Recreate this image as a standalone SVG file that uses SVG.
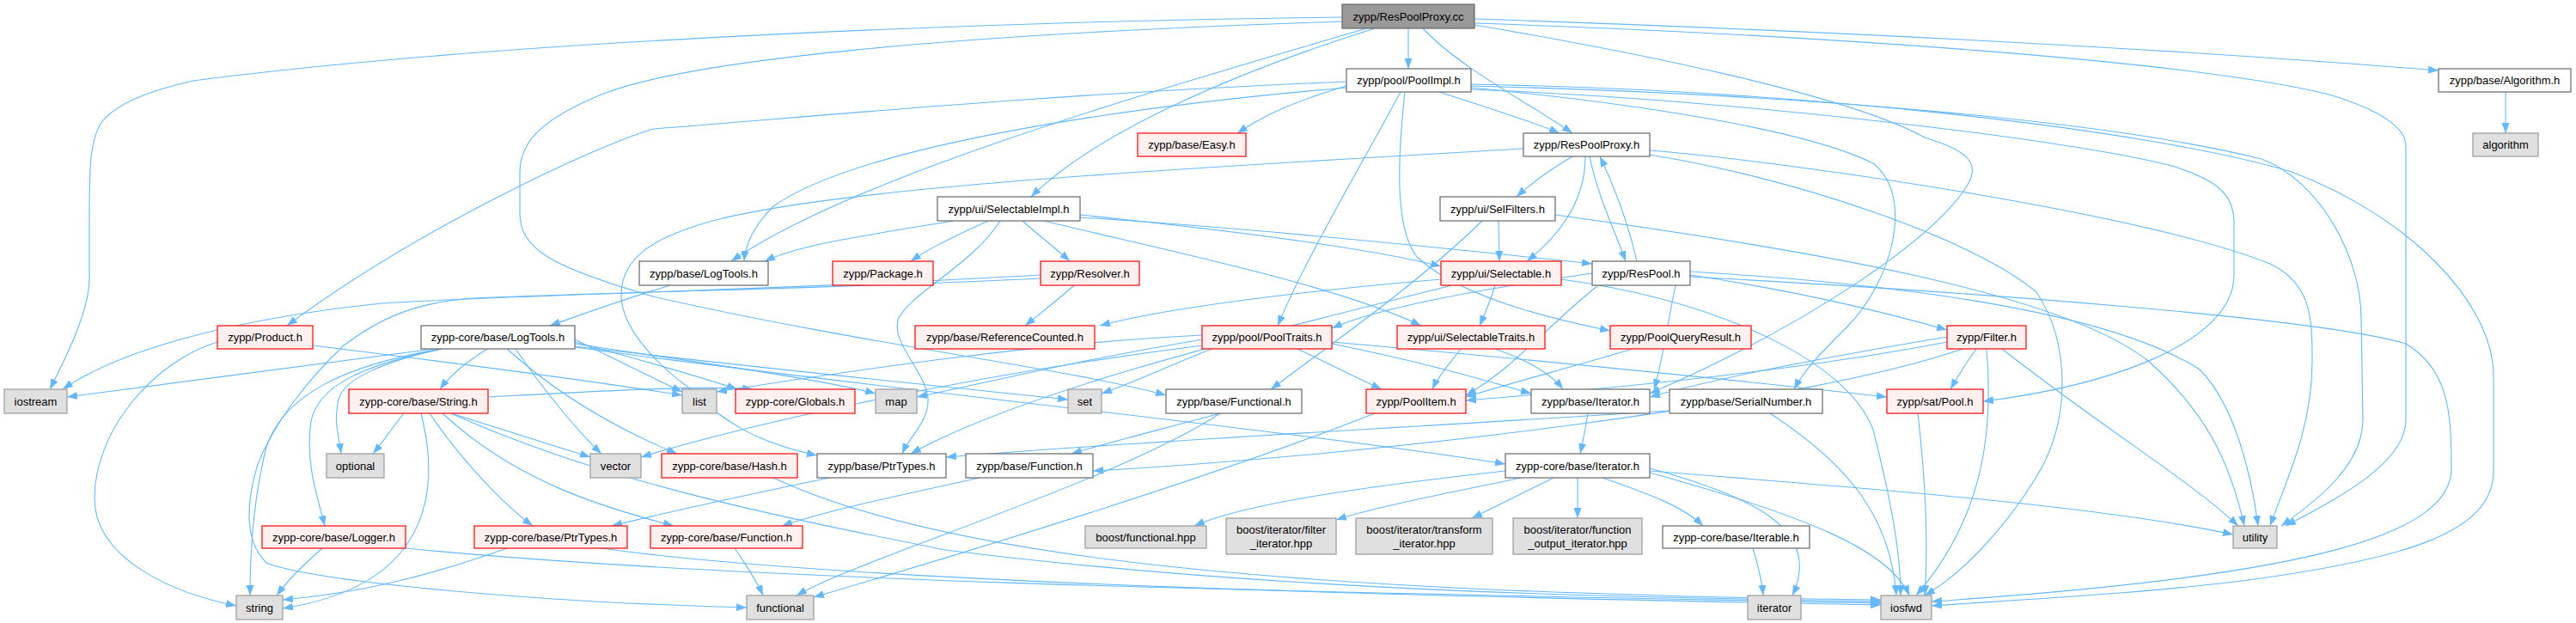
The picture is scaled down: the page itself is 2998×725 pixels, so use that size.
<svg xmlns="http://www.w3.org/2000/svg" width="2998" height="725" viewBox="0 0 2998 725">
<style>
.e{fill:none;stroke:#63B8FF;stroke-width:1.1;marker-end:url(#ah)}
.nd rect{fill:#FFFFFF;stroke:#666666;stroke-width:1.2}
.rd rect{fill:#FFF0F0;stroke:#FF0000;stroke-width:1.2}
.gy rect{fill:#E0E0E0;stroke:#999999;stroke-width:1.2}
.rt rect{fill:#999999;stroke:#666666;stroke-width:1.2}
text{font-family:"Liberation Sans",Arial,sans-serif;font-size:13px;text-anchor:middle;fill:#000}
</style>
<defs>
<marker id="ah" markerUnits="userSpaceOnUse" markerWidth="13" markerHeight="10" refX="12" refY="4.5" orient="auto">
<path d="M0,0 L12,4.5 L0,9 z" fill="#63B8FF"/>
</marker>
</defs>
<rect width="2998" height="725" fill="#FFFFFF"/>
<g id="edges">
<path class="e" d="M1562,20 C1200,24 600,45 225,94 C175,105 137,120 120,140 C104,160 104,200 104,250 L104,323 C104,360 80,410 58,453"/>
<path class="e" d="M1590,33 C1400,90 1000,200 851,304"/>
<path class="e" d="M1600,33 C1450,80 1280,150 1200,229"/>
<path class="e" d="M1639,33 L1639,80"/>
<path class="e" d="M1656,33 C1700,80 1780,120 1830,155"/>
<path class="e" d="M1716,22 C2100,35 2500,55 2838,82"/>
<path class="e" d="M1716,27 C2100,40 2550,70 2711,110 C2760,125 2800,145 2800,170 L2800,488 C2800,540 2720,580 2660,612"/>
<path class="e" d="M1716,29 C1900,60 2150,110 2240,160 C2290,175 2305,190 2290,215 C2250,280 2100,380 1920,458"/>
<path class="e" d="M1562,25 C1100,40 800,70 700,110 C640,135 605,160 605,200 L605,247 C605,290 640,310 760,345 C1000,400 1250,430 1357,460"/>
<path class="e" d="M1567,100 C1500,120 1470,135 1440,155"/>
<path class="e" d="M1567,102 C1300,125 1000,170 900,240 C880,260 868,280 866,304"/>
<path class="e" d="M1675,107 C1730,125 1780,140 1815,155"/>
<path class="e" d="M1567,95 C1200,110 900,140 760,150 C688,172 485,267 334,379"/>
<path class="e" d="M1630,107 C1580,200 1520,300 1487,379"/>
<path class="e" d="M1635,107 C1625,200 1625,270 1650,300 C1700,345 1800,370 1874,385"/>
<path class="e" d="M1712,102 C1900,120 2100,150 2180,190 C2230,230 2200,330 2150,380 C2120,410 2100,430 2088,453"/>
<path class="e" d="M1712,104 C2000,115 2400,160 2528,193 C2580,210 2600,225 2600,260 L2600,320 C2600,400 2450,450 2308,467"/>
<path class="e" d="M1712,100 C2100,110 2450,140 2632,185 C2700,210 2748,300 2748,370 L2750,488 C2750,540 2700,580 2655,612"/>
<path class="e" d="M1712,98 C2100,105 2500,150 2667,200 C2800,250 2902,350 2902,438 L2902,548 C2902,620 2800,650 2617,675 C2500,690 2350,698 2248,705"/>
<path class="e" d="M1830,182 C1800,200 1780,215 1765,229"/>
<path class="e" d="M1845,182 C1845,230 1820,270 1777,304"/>
<path class="e" d="M1850,182 C1860,230 1880,270 1892,304"/>
<path class="e" d="M1773,173 C1400,195 1000,215 837,255 C760,275 723,300 723,343 C723,380 760,420 800,450 C840,490 880,515 951,530"/>
<path class="e" d="M1920,175 C2100,190 2500,250 2642,307 C2690,330 2691,370 2691,420 C2691,500 2660,560 2642,612"/>
<path class="e" d="M1920,180 C2100,210 2300,280 2370,340 C2410,400 2410,490 2370,555 C2330,620 2280,670 2240,693"/>
<path class="e" d="M1110,257 C1000,275 930,285 890,304"/>
<path class="e" d="M1150,257 C1100,280 1080,290 1060,304"/>
<path class="e" d="M1190,257 C1210,275 1230,290 1245,304"/>
<path class="e" d="M1257,250 C1450,270 1600,290 1677,310"/>
<path class="e" d="M1257,253 C1450,265 1650,285 1853,307"/>
<path class="e" d="M1215,257 C1350,290 1550,330 1654,379"/>
<path class="e" d="M1211,320 C900,338 550,345 444,353 C300,368 150,400 73,453"/>
<path class="e" d="M1164,257 C1130,310 1060,340 1045,372 C1038,400 1075,430 1080,462 C1082,490 1060,505 1050,528"/>
<path class="e" d="M1744,257 L1745,304"/>
<path class="e" d="M1725,257 C1650,330 1550,400 1479,453"/>
<path class="e" d="M1810,250 C2100,290 2400,340 2500,420 C2580,490 2600,560 2612,612"/>
<path class="e" d="M780,332 C720,350 680,365 640,379"/>
<path class="e" d="M1250,332 C1230,350 1210,365 1193,379"/>
<path class="e" d="M1211,324 C1000,335 700,340 551,347 C480,352 440,372 400,402 C360,440 320,490 300,540 C285,590 285,630 310,655 C360,675 600,700 869,707"/>
<path class="e" d="M1677,325 C1500,340 1350,360 1280,379"/>
<path class="e" d="M1740,332 C1735,350 1728,365 1722,379"/>
<path class="e" d="M1690,332 C1500,380 1200,450 1060,528"/>
<path class="e" d="M1817,325 C2000,350 2150,420 2180,500 C2200,580 2212,640 2212,693"/>
<path class="e" d="M1905,304 C1895,260 1880,220 1862,182"/>
<path class="e" d="M1853,318 C1700,340 1600,360 1550,382"/>
<path class="e" d="M1967,320 C2100,340 2200,365 2266,384"/>
<path class="e" d="M1860,332 C1800,380 1760,430 1706,460"/>
<path class="e" d="M1950,332 C1940,380 1935,420 1925,453"/>
<path class="e" d="M1967,316 C2200,330 2450,360 2560,430 C2600,470 2620,550 2628,612"/>
<path class="e" d="M1967,322 C2300,340 2700,370 2800,400 C2850,430 2853,480 2853,545 C2853,620 2700,670 2248,700"/>
<path class="e" d="M253,398 C180,420 110,500 110,580 C110,650 200,690 275,705"/>
<path class="e" d="M364,402 C550,425 700,445 794,460"/>
<path class="e" d="M505,406 C400,420 250,440 78,462"/>
<path class="e" d="M567,406 C545,420 525,435 512,453"/>
<path class="e" d="M514,406 C450,420 400,440 394,465 C388,490 394,505 397,528"/>
<path class="e" d="M514,406 C420,425 370,450 362,490 C355,540 370,580 378,612"/>
<path class="e" d="M514,406 C400,425 330,460 310,520 C295,580 291,640 291,693"/>
<path class="e" d="M600,406 C630,450 670,500 700,528"/>
<path class="e" d="M669,395 C720,420 760,440 794,456"/>
<path class="e" d="M669,398 C750,420 820,440 858,453"/>
<path class="e" d="M669,400 C800,420 950,440 1019,458"/>
<path class="e" d="M669,403 C900,430 1100,450 1243,465"/>
<path class="e" d="M590,406 C650,460 720,500 788,528"/>
<path class="e" d="M669,404 C1000,450 1500,500 1752,540"/>
<path class="e" d="M1399,390 C1200,400 1000,430 834,456"/>
<path class="e" d="M1399,395 C1250,420 1150,445 1067,462"/>
<path class="e" d="M1410,406 C1350,430 1320,445 1282,458"/>
<path class="e" d="M1510,406 C1550,425 1580,440 1608,453"/>
<path class="e" d="M1550,400 C1650,420 1720,440 1782,458"/>
<path class="e" d="M1550,398 C1800,420 2000,440 2196,462"/>
<path class="e" d="M1399,402 C1100,440 850,500 746,532"/>
<path class="e" d="M1700,406 C1690,420 1675,435 1667,453"/>
<path class="e" d="M1740,406 C1780,420 1805,435 1819,453"/>
<path class="e" d="M1900,406 C1820,430 1760,445 1706,462"/>
<path class="e" d="M2266,392 C2100,420 2000,440 1920,462"/>
<path class="e" d="M2300,406 C2290,420 2280,435 2270,453"/>
<path class="e" d="M2330,406 C2450,500 2550,560 2605,612"/>
<path class="e" d="M2312,406 C2320,500 2310,600 2230,693"/>
<path class="e" d="M2266,398 C2100,430 1900,450 1706,466"/>
<path class="e" d="M2284,406 C2100,470 1600,530 1272,548"/>
<path class="e" d="M470,481 C455,500 445,515 434,528"/>
<path class="e" d="M525,481 C600,505 650,520 687,532"/>
<path class="e" d="M490,481 C510,560 510,680 329,708"/>
<path class="e" d="M500,481 C540,540 590,590 620,612"/>
<path class="e" d="M515,481 C600,560 700,590 784,612"/>
<path class="e" d="M568,462 C700,455 820,448 876,453"/>
<path class="e" d="M525,481 C700,560 900,600 1100,640 C1500,690 1900,695 2189,700"/>
<path class="e" d="M1420,481 C1350,500 1290,515 1247,528"/>
<path class="e" d="M1420,481 C1300,560 1000,650 927,693"/>
<path class="e" d="M1600,481 C1400,560 1100,650 947,695"/>
<path class="e" d="M1848,481 C1845,500 1842,515 1839,528"/>
<path class="e" d="M2060,481 C2150,540 2200,600 2207,693"/>
<path class="e" d="M1943,478 C1600,500 1300,515 1101,532"/>
<path class="e" d="M2232,481 C2240,550 2245,620 2240,693"/>
<path class="e" d="M900,556 C1100,650 1500,690 2189,698"/>
<path class="e" d="M965,556 C850,580 780,595 712,612"/>
<path class="e" d="M1140,556 C1030,580 960,595 910,612"/>
<path class="e" d="M1752,548 C1600,565 1450,585 1390,612"/>
<path class="e" d="M1770,556 C1680,575 1600,590 1555,605"/>
<path class="e" d="M1808,556 C1770,575 1740,590 1713,603"/>
<path class="e" d="M1836,556 L1836,603"/>
<path class="e" d="M1865,556 C1920,575 1960,590 1982,612"/>
<path class="e" d="M1920,545 C2050,580 2120,620 2086,693"/>
<path class="e" d="M1920,548 C2200,570 2450,590 2599,622"/>
<path class="e" d="M1920,550 C2100,600 2200,640 2222,693"/>
<path class="e" d="M375,638 C350,660 335,675 322,693"/>
<path class="e" d="M472,638 C900,680 1600,690 2189,702"/>
<path class="e" d="M590,638 C500,670 420,690 329,698"/>
<path class="e" d="M700,638 C1000,680 1700,695 2189,704"/>
<path class="e" d="M855,638 C870,660 880,675 888,693"/>
<path class="e" d="M2040,638 C2045,655 2050,670 2052,693"/>
<path class="e" d="M2916,107 L2916,155"/>
</g>
<g id="n0" class="rt"><rect x="1562" y="5" width="154" height="28"/><text x="1639" y="23.5">zypp/ResPoolProxy.cc</text></g>
<g id="n1" class="nd"><rect x="1567" y="80" width="145" height="27"/><text x="1639.5" y="98">zypp/pool/PoolImpl.h</text></g>
<g id="n2" class="nd"><rect x="2838" y="80" width="154" height="27"/><text x="2915" y="98">zypp/base/Algorithm.h</text></g>
<g id="n3" class="rd"><rect x="1324" y="155" width="126" height="27"/><text x="1387" y="173">zypp/base/Easy.h</text></g>
<g id="n4" class="nd"><rect x="1773" y="155" width="147" height="27"/><text x="1846.5" y="173">zypp/ResPoolProxy.h</text></g>
<g id="n5" class="gy"><rect x="2878" y="155" width="76" height="27"/><text x="2916" y="173">algorithm</text></g>
<g id="n6" class="nd"><rect x="1091" y="229" width="166" height="28"/><text x="1174" y="247.5">zypp/ui/SelectableImpl.h</text></g>
<g id="n7" class="nd"><rect x="1676" y="229" width="134" height="28"/><text x="1743" y="247.5">zypp/ui/SelFilters.h</text></g>
<g id="n8" class="nd"><rect x="744" y="304" width="150" height="28"/><text x="819" y="322.5">zypp/base/LogTools.h</text></g>
<g id="n9" class="rd"><rect x="969" y="304" width="117" height="28"/><text x="1027.5" y="322.5">zypp/Package.h</text></g>
<g id="n10" class="rd"><rect x="1211" y="304" width="115" height="28"/><text x="1268.5" y="322.5">zypp/Resolver.h</text></g>
<g id="n11" class="rd"><rect x="1677" y="304" width="140" height="28"/><text x="1747" y="322.5">zypp/ui/Selectable.h</text></g>
<g id="n12" class="nd"><rect x="1853" y="304" width="114" height="28"/><text x="1910" y="322.5">zypp/ResPool.h</text></g>
<g id="n13" class="rd"><rect x="253" y="379" width="111" height="27"/><text x="308.5" y="397">zypp/Product.h</text></g>
<g id="n14" class="nd"><rect x="490" y="379" width="179" height="27"/><text x="579.5" y="397">zypp-core/base/LogTools.h</text></g>
<g id="n15" class="rd"><rect x="1065" y="379" width="209" height="27"/><text x="1169.5" y="397">zypp/base/ReferenceCounted.h</text></g>
<g id="n16" class="rd"><rect x="1399" y="379" width="151" height="27"/><text x="1474.5" y="397">zypp/pool/PoolTraits.h</text></g>
<g id="n17" class="rd"><rect x="1626" y="379" width="172" height="27"/><text x="1712" y="397">zypp/ui/SelectableTraits.h</text></g>
<g id="n18" class="rd"><rect x="1874" y="379" width="164" height="27"/><text x="1956" y="397">zypp/PoolQueryResult.h</text></g>
<g id="n19" class="rd"><rect x="2266" y="379" width="92" height="27"/><text x="2312" y="397">zypp/Filter.h</text></g>
<g id="n20" class="gy"><rect x="5" y="453" width="73" height="28"/><text x="41.5" y="471.5">iostream</text></g>
<g id="n21" class="rd"><rect x="406" y="453" width="162" height="28"/><text x="487" y="471.5">zypp-core/base/String.h</text></g>
<g id="n22" class="gy"><rect x="794" y="453" width="40" height="28"/><text x="814" y="471.5">list</text></g>
<g id="n23" class="rd"><rect x="856" y="453" width="139" height="28"/><text x="925.5" y="471.5">zypp-core/Globals.h</text></g>
<g id="n24" class="gy"><rect x="1019" y="453" width="48" height="28"/><text x="1043" y="471.5">map</text></g>
<g id="n25" class="gy"><rect x="1243" y="453" width="39" height="28"/><text x="1262.5" y="471.5">set</text></g>
<g id="n26" class="nd"><rect x="1357" y="453" width="158" height="28"/><text x="1436" y="471.5">zypp/base/Functional.h</text></g>
<g id="n27" class="rd"><rect x="1590" y="453" width="116" height="28"/><text x="1648" y="471.5">zypp/PoolItem.h</text></g>
<g id="n28" class="nd"><rect x="1782" y="453" width="138" height="28"/><text x="1851" y="471.5">zypp/base/Iterator.h</text></g>
<g id="n29" class="nd"><rect x="1943" y="453" width="178" height="28"/><text x="2032" y="471.5">zypp/base/SerialNumber.h</text></g>
<g id="n30" class="rd"><rect x="2196" y="453" width="112" height="28"/><text x="2252" y="471.5">zypp/sat/Pool.h</text></g>
<g id="n31" class="gy"><rect x="380" y="528" width="67" height="28"/><text x="413.5" y="546.5">optional</text></g>
<g id="n32" class="gy"><rect x="687" y="528" width="59" height="28"/><text x="716.5" y="546.5">vector</text></g>
<g id="n33" class="rd"><rect x="770" y="528" width="158" height="28"/><text x="849" y="546.5">zypp-core/base/Hash.h</text></g>
<g id="n34" class="nd"><rect x="951" y="528" width="150" height="28"/><text x="1026" y="546.5">zypp/base/PtrTypes.h</text></g>
<g id="n35" class="nd"><rect x="1124" y="528" width="148" height="28"/><text x="1198" y="546.5">zypp/base/Function.h</text></g>
<g id="n36" class="nd"><rect x="1752" y="528" width="168" height="28"/><text x="1836" y="546.5">zypp-core/base/Iterator.h</text></g>
<g id="n37" class="rd"><rect x="305" y="612" width="167" height="26"/><text x="388.5" y="629.5">zypp-core/base/Logger.h</text></g>
<g id="n38" class="rd"><rect x="552" y="612" width="178" height="26"/><text x="641" y="629.5">zypp-core/base/PtrTypes.h</text></g>
<g id="n39" class="rd"><rect x="757" y="612" width="177" height="26"/><text x="845.5" y="629.5">zypp-core/base/Function.h</text></g>
<g id="n40" class="gy"><rect x="1263" y="612" width="141" height="26"/><text x="1333.5" y="629.5">boost/functional.hpp</text></g>
<g id="n41" class="gy"><rect x="1427" y="603" width="128" height="42"/><text x="1491" y="621">boost/iterator/filter</text><text x="1491" y="637">_iterator.hpp</text></g>
<g id="n42" class="gy"><rect x="1578" y="603" width="159" height="42"/><text x="1657.5" y="621">boost/iterator/transform</text><text x="1657.5" y="637">_iterator.hpp</text></g>
<g id="n43" class="gy"><rect x="1761" y="603" width="150" height="42"/><text x="1836" y="621">boost/iterator/function</text><text x="1836" y="637">_output_iterator.hpp</text></g>
<g id="n44" class="nd"><rect x="1935" y="612" width="171" height="26"/><text x="2020.5" y="629.5">zypp-core/base/Iterable.h</text></g>
<g id="n45" class="gy"><rect x="2599" y="612" width="51" height="26"/><text x="2624.5" y="629.5">utility</text></g>
<g id="n46" class="gy"><rect x="275" y="693" width="54" height="28"/><text x="302" y="711.5">string</text></g>
<g id="n47" class="gy"><rect x="869" y="693" width="78" height="28"/><text x="908" y="711.5">functional</text></g>
<g id="n48" class="gy"><rect x="2034" y="693" width="62" height="28"/><text x="2065" y="711.5">iterator</text></g>
<g id="n49" class="gy"><rect x="2189" y="693" width="59" height="28"/><text x="2218.5" y="711.5">iosfwd</text></g>
</svg>
